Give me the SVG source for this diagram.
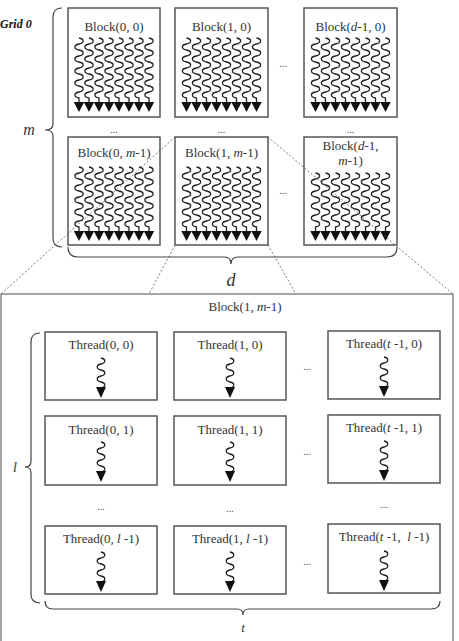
<svg xmlns="http://www.w3.org/2000/svg" xmlns:xlink="http://www.w3.org/1999/xlink" width="459" height="641" viewBox="0 0 459 641">
<style>
text{font-family:"Liberation Serif","Times New Roman",serif;fill:#333;}
.lbl{font-size:13px;text-anchor:middle;}
.dots{font-size:10px;text-anchor:middle;fill:#444;}
.box{fill:#fff;stroke:#555;stroke-width:1.5;}
.big{fill:#fff;stroke:#777;stroke-width:1.3;}
.brace{fill:none;stroke:#444;stroke-width:1.2;}
.wave{fill:none;stroke:#222;stroke-width:1.3;}
.dot{fill:none;stroke:#555;stroke-width:0.8;stroke-dasharray:2,2;}
.it{font-style:italic;}
</style>
<defs>
<path id="w" class="wave" d="M0,0 C5.5,1 5.5,5 0,6 S-5.5,11 0,12 S5.5,17 0,18 S-5.5,23 0,24 S5.5,29 0,30 S-5.5,35 0,36 S5.5,41 0,42 S-5.5,47 0,48 S5.5,53 0,54 S-5.5,59 0,60 L0,64"/>
<path id="ws" class="wave" d="M0,0 C5.5,1 5.5,5 0,6 S-5.5,11 0,12 S5.5,17 0,18 S-5.5,23 0,24 S5.5,29 0,30 S-5.5,35 0,36 S5.5,41 0,42 S-5.5,47 0,48 S5.5,53 0,54 L0,58"/>
<polygon id="ah" points="-5.2,0 5.2,0 0,10" fill="#111"/>
<g id="threads">
<use xlink:href="#w" x="-35"/><use xlink:href="#w" x="-25"/><use xlink:href="#w" x="-15"/><use xlink:href="#w" x="-5"/>
<use xlink:href="#w" x="5"/><use xlink:href="#w" x="15"/><use xlink:href="#w" x="25"/><use xlink:href="#w" x="35"/>
<use xlink:href="#ah" x="-35" y="64"/><use xlink:href="#ah" x="-25" y="64"/><use xlink:href="#ah" x="-15" y="64"/><use xlink:href="#ah" x="-5" y="64"/>
<use xlink:href="#ah" x="5" y="64"/><use xlink:href="#ah" x="15" y="64"/><use xlink:href="#ah" x="25" y="64"/><use xlink:href="#ah" x="35" y="64"/>
</g>
<g id="threadsS">
<use xlink:href="#ws" x="-35"/><use xlink:href="#ws" x="-25"/><use xlink:href="#ws" x="-15"/><use xlink:href="#ws" x="-5"/>
<use xlink:href="#ws" x="5"/><use xlink:href="#ws" x="15"/><use xlink:href="#ws" x="25"/><use xlink:href="#ws" x="35"/>
<use xlink:href="#ah" x="-35" y="58"/><use xlink:href="#ah" x="-25" y="58"/><use xlink:href="#ah" x="-15" y="58"/><use xlink:href="#ah" x="-5" y="58"/>
<use xlink:href="#ah" x="5" y="58"/><use xlink:href="#ah" x="15" y="58"/><use xlink:href="#ah" x="25" y="58"/><use xlink:href="#ah" x="35" y="58"/>
</g>
<g id="sq">
<path class="wave" d="M0,0 C5,1 5,5 0,6 S-5,11 0,12 S5,17 0,18 S-5,23 0,24 S5,29 0,30"/>
<polygon points="-5,29 5,29 0,40" fill="#111"/>
</g>
</defs>

<text x="0" y="28" style="font-weight:bold;font-style:italic;font-size:12px;fill:#111">Grid 0</text>

<g id="block-detail">
<rect class="big" x="1" y="294" width="452" height="370"/>
<text class="lbl" x="245" y="311">Block(1, <tspan class="it">m</tspan>-1)</text>
</g>

<g id="block-0-0">
<rect class="box" x="68" y="8" width="92" height="109"/>
<text class="lbl" x="114" y="31">Block(0, 0)</text>
<use xlink:href="#threads" x="114" y="38"/>
</g>
<g id="block-1-0">
<rect class="box" x="175" y="8" width="93" height="109"/>
<text class="lbl" x="221.5" y="31">Block(1, 0)</text>
<use xlink:href="#threads" x="221.5" y="38"/>
</g>
<g id="block-d-0">
<rect class="box" x="304" y="8" width="93" height="109"/>
<text class="lbl" x="350.5" y="31">Block(<tspan class="it">d</tspan>-1, 0)</text>
<use xlink:href="#threads" x="350.5" y="38"/>
</g>
<g id="block-0-m">
<rect class="box" x="68" y="137" width="92" height="108"/>
<text class="lbl" x="114" y="157">Block(0, <tspan class="it">m</tspan>-1)</text>
<use xlink:href="#threads" x="114" y="167"/>
</g>
<g id="block-1-m">
<rect class="box" x="175" y="137" width="93" height="108"/>
<text class="lbl" x="221.5" y="157">Block(1, <tspan class="it">m</tspan>-1)</text>
<use xlink:href="#threads" x="221.5" y="167"/>
</g>
<g id="block-d-m">
<rect class="box" x="304" y="137" width="93" height="108"/>
<text class="lbl" x="350.5" y="150">Block(<tspan class="it">d</tspan>-1,</text>
<text class="lbl" x="350.5" y="165"><tspan class="it">m</tspan>-1)</text>
<use xlink:href="#threadsS" x="350.5" y="173"/>
</g>

<g id="connectors">
<path class="dot" d="M175,137 L1,294"/>
<path class="dot" d="M175,245 L149,294"/>
<path class="dot" d="M268,245 L296,294"/>
<path class="dot" d="M268,137 L453,294"/>
</g>

<g id="grid-dots">
<text class="dots" x="283" y="67">...</text>
<text class="dots" x="114" y="133">...</text>
<text class="dots" x="221.5" y="133">...</text>
<text class="dots" x="350.5" y="133">...</text>
<text class="dots" x="283" y="194">...</text>
</g>

<g id="brace-m">
<path class="brace" d="M62,8 Q53,8 53,17 L53,124 Q53,130 45,130 Q53,130 53,136 L53,238 Q53,247 62,247"/>
<text x="29" y="135" class="it" style="font-size:16px;text-anchor:middle">m</text>
</g>
<g id="brace-d">
<path class="brace" d="M68,247 Q68,257 78,257 L224,257 Q231,257 231,264 Q231,257 238,257 L387,257 Q397,257 397,247"/>
<text x="231" y="286" class="it" style="font-size:18px;text-anchor:middle">d</text>
</g>

<g id="thread-0-0"><rect class="box" x="45" y="332" width="112" height="68"/><text class="lbl" x="101" y="349">Thread(0, 0)</text><use xlink:href="#sq" x="101" y="358"/></g>
<g id="thread-1-0"><rect class="box" x="174" y="332" width="112" height="68"/><text class="lbl" x="230" y="349">Thread(1, 0)</text><use xlink:href="#sq" x="230" y="358"/></g>
<g id="thread-t-0"><rect class="box" x="328" y="331" width="112" height="68"/><text class="lbl" x="384" y="348">Thread(<tspan class="it">t</tspan> -1, 0)</text><use xlink:href="#sq" x="384" y="357"/></g>

<g id="thread-0-1"><rect class="box" x="45" y="416" width="112" height="69"/><text class="lbl" x="101" y="434">Thread(0, 1)</text><use xlink:href="#sq" x="101" y="442"/></g>
<g id="thread-1-1"><rect class="box" x="174" y="416" width="112" height="69"/><text class="lbl" x="230" y="434">Thread(1, 1)</text><use xlink:href="#sq" x="230" y="442"/></g>
<g id="thread-t-1"><rect class="box" x="328" y="415" width="112" height="68"/><text class="lbl" x="384" y="432">Thread(<tspan class="it">t</tspan> -1, 1)</text><use xlink:href="#sq" x="384" y="441"/></g>

<g id="thread-0-l"><rect class="box" x="45" y="526" width="112" height="68"/><text class="lbl" x="101" y="543">Thread(0, <tspan class="it">l</tspan> -1)</text><use xlink:href="#sq" x="101" y="552"/></g>
<g id="thread-1-l"><rect class="box" x="174" y="526" width="112" height="68"/><text class="lbl" x="230" y="543">Thread(1, <tspan class="it">l</tspan> -1)</text><use xlink:href="#sq" x="230" y="552"/></g>
<g id="thread-t-l"><rect class="box" x="328" y="524" width="112" height="69"/><text class="lbl" x="384" y="541" xml:space="preserve">Thread(<tspan class="it">t</tspan> -1,  <tspan class="it">l</tspan> -1)</text><use xlink:href="#sq" x="384" y="551"/></g>

<g id="thread-dots">
<text class="dots" x="307" y="370">...</text>
<text class="dots" x="307" y="455">...</text>
<text class="dots" x="307" y="565">...</text>
<text class="dots" x="101" y="510">...</text>
<text class="dots" x="230" y="512">...</text>
<text class="dots" x="384" y="508">...</text>
</g>

<g id="brace-l">
<path class="brace" d="M40,333 Q31,333 31,342 L31,461 Q31,467 25,467 Q31,467 31,473 L31,594 Q31,603 40,603"/>
<text x="15" y="472" class="it" style="font-size:14px;text-anchor:middle">l</text>
</g>
<g id="brace-t">
<path class="brace" d="M45,601 Q45,609 53,609 L237,609 Q243,609 243,615 Q243,609 249,609 L431,609 Q440,609 440,601"/>
<text x="243" y="632" class="it" style="font-size:13px;text-anchor:middle">t</text>
</g>
</svg>
